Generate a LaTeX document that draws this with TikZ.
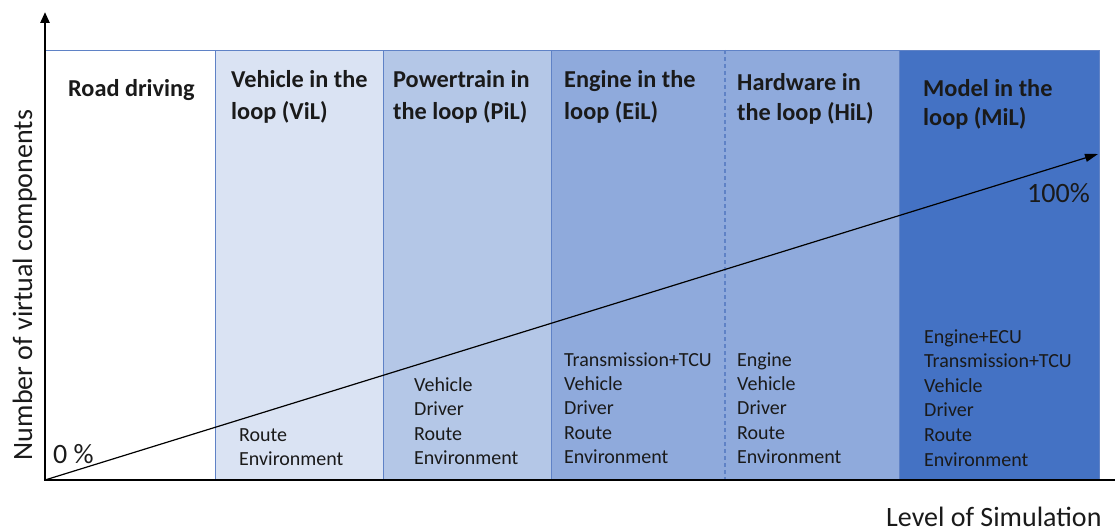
\documentclass[tikz,border=0pt]{standalone}
\usepackage{fontspec}
\setmainfont{Carlito}
\usetikzlibrary{arrows.meta}
\definecolor{cA}{HTML}{DAE3F3}
\definecolor{cB}{HTML}{B4C7E7}
\definecolor{cC}{HTML}{8FAADC}
\definecolor{cD}{HTML}{4472C4}
\definecolor{edgeblue}{HTML}{5F82C6}
\definecolor{txt}{HTML}{1A1A1A}
\newcommand\lineblock[6]{%
  \foreach \t [count=\i] in {#5} \node[#6] (#1-\i) at (#2, {#3+(\i-1)*#4}) {\t};}
\begin{document}
\begin{tikzpicture}[x=1pt,y=-1pt,
  col/.style={draw=edgeblue, line width=1.2pt, anchor=north west, inner sep=0pt,
    minimum height=430pt},
  ttl/.style={anchor=base west, inner sep=0pt, text=txt, font=\bfseries\fontsize{24.3}{29}\selectfont},
  body/.style={anchor=base west, inner sep=0pt, text=txt, font=\fontsize{20}{24}\selectfont},
  lab/.style={inner sep=0pt, text=txt, font=\fontsize{28}{34}\selectfont},
  axis/.style={line width=2.5pt, black},
  ramp/.style={line width=1.2pt, black, -{Triangle[length=13pt,width=8pt]}}]
\useasboundingbox (0,0) rectangle (1115,532);
% columns
\node[col, fill=white, minimum width=170pt] (road) at (45,50) {};
\node[col, fill=cA, minimum width=168pt] (vil) at (215,50) {};
\node[col, fill=cB, minimum width=168pt] (pil) at (383,50) {};
\node[col, fill=cC, minimum width=348pt] (eil) at (551,50) {};
\node[col, fill=cD, minimum width=200pt] (mil) at (899,50) {};
\coordinate (dtop) at (725,50);
\coordinate (dbot) at (725,480);
\draw[edgeblue, line width=1.2pt, dash pattern=on 4pt off 3pt] (dtop) -- (dbot);
% titles
\node[ttl] (t-road) at (68,96) {Road driving};
\lineblock{tv}{231}{88}{31}{{Vehicle in the},{loop (ViL)}}{ttl}
\lineblock{tp}{393}{88}{31}{{Powertrain in},{the loop (PiL)}}{ttl}
\lineblock{te}{564}{88}{31}{{Engine in the},{loop (EiL)}}{ttl}
\lineblock{th}{737}{91}{30}{{Hardware in},{the loop (HiL)}}{ttl}
\lineblock{tm}{923}{96}{29.5}{{Model in the},{loop (MiL)}}{ttl}
% component lists
\lineblock{bv}{239}{441}{24.5}{Route,Environment}{body}
\lineblock{bp}{414}{391}{24.5}{Vehicle,Driver,Route,Environment}{body}
\lineblock{be}{564}{366}{24.4}{Transmission+TCU,Vehicle,Driver,Route,Environment}{body}
\lineblock{bh}{737}{366}{24.4}{Engine,Vehicle,Driver,Route,Environment}{body}
\lineblock{bm}{924}{343}{24.6}{Engine+ECU,Transmission+TCU,Vehicle,Driver,Route,Environment}{body}
% axes
\coordinate (o) at (45,480);
\coordinate (ytop) at (45,12);
\coordinate (xend) at (1125,480);
\coordinate (rend) at (1098,154);
\draw[axis, -{Triangle[length=11pt,width=9pt]}] (o) -- (ytop);
\draw[axis] ([xshift=-1.25pt]o) -- (xend);
\draw[ramp] (o) -- (rend);
% labels
\node[lab, rotate=90, anchor=base] (ylab) at (32,285) {Number of virtual components};
\node[lab, anchor=base west] (xlab) at (886,526) {Level of Simulation};
\node[lab, anchor=base west] (p0) at (53,463) {0 \%};
\node[lab, anchor=base east] (p100) at (1090,202) {100\%};
\end{tikzpicture}
\end{document}
